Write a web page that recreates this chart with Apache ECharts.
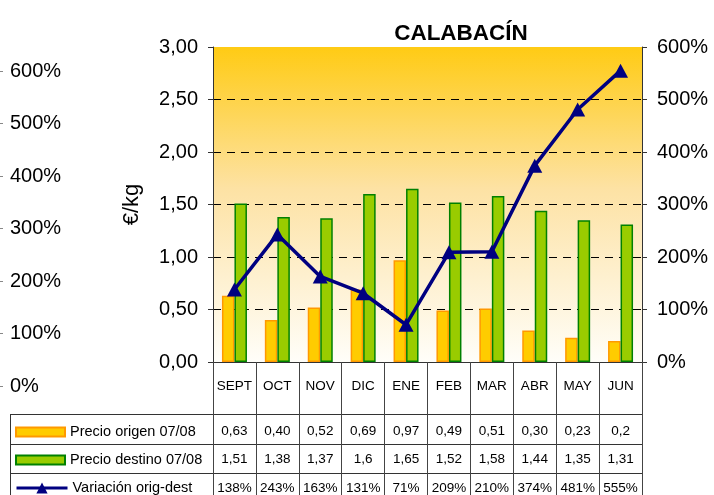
<!DOCTYPE html>
<html><head><meta charset="utf-8">
<script src="https://cdn.jsdelivr.net/npm/echarts@6/dist/echarts.min.js"></script>
<style>html,body{margin:0;padding:0;background:#fff}#c{width:714px;height:495px}</style>
</head><body><div id="c"></div>
<script>
const months = ['SEPT','OCT','NOV','DIC','ENE','FEB','MAR','ABR','MAY','JUN'];
const precioOrigen = ['0.63','0.40','0.52','0.69','0.97','0.49','0.51','0.30','0.23','0.2'];
const precioDestino = ['1.51','1.38','1.37','1.6','1.65','1.52','1.58','1.44','1.35','1.31'];
const variacion = [138,243,163,131,71,209,210,374,481,555];
const seriesNames = ['Precio origen 07/08','Precio destino 07/08','Variación orig-dest'];
const title = 'CALABACÍN';

const FONT = "'Liberation Sans', Arial, sans-serif";
const chart = echarts.init(document.getElementById('c'), null, {renderer:'canvas'});
const comma = s => String(s).replace('.', ',');
const rowAxis = (arr, margin, fmt) => ({
  type:'category', gridIndex:0, position:'bottom', data: months,
  axisLine:{show:false}, axisTick:{show:false}, splitLine:{show:false},
  axisLabel:{interval:0, margin: margin, fontSize:13.5, color:'#000', fontFamily:FONT,
    formatter:(v, i) => fmt(arr[i])}
});
const legendBox = (name, top, extra) => Object.assign({
  orient:'vertical', left:15, top: top, itemWidth:49, itemHeight:9, padding:0,
  textStyle:{fontSize:14.5, color:'#000', lineHeight:16, fontFamily:FONT},
  data:[name]
}, extra || {});

const option = {
  animation:false,
  textStyle:{fontFamily:FONT},
  title:{text:title, left:456, textAlign:'center', top:17,
    textStyle:{fontSize:22.5, fontWeight:'bold', color:'#000', fontFamily:FONT}},
  grid:[
    {left:213, right:72, top:47, bottom:133, show:true, borderWidth:0, outerBoundsMode:'none',
     backgroundColor:new echarts.graphic.LinearGradient(0,0,0,1,[
       {offset:0, color:'#FFCB14'},{offset:0.45, color:'#FDE2A4'},{offset:1, color:'#FFFEF9'}])},
    {left:-30, width:30, top:71, bottom:109, outerBoundsMode:'none'}
  ],
  legend:[
    legendBox({name:seriesNames[0], icon:'rect'}, 424),
    legendBox({name:seriesNames[1], icon:'rect'}, 452),
    legendBox({name:seriesNames[2]}, 480, {itemHeight:14, itemWidth:51, lineStyle:{width:3}})
  ],
  xAxis:[
    {type:'category', gridIndex:0, data:months, position:'bottom',
     axisLine:{lineStyle:{color:'#333', width:1}},
     axisTick:{show:true, length:133, interval:0, lineStyle:{color:'#444'}},
     axisLabel:{interval:0, margin:17, fontSize:13.5, color:'#000', fontFamily:FONT}},
    rowAxis(precioOrigen, 62, comma),
    rowAxis(precioDestino, 90, comma),
    rowAxis(variacion, 119, v => v + '%'),
    {type:'category', gridIndex:1, data:months, show:false}
  ],
  yAxis:[
    {type:'value', gridIndex:0, min:0, max:3, interval:0.5, position:'left',
     name:'€/kg', nameLocation:'middle', nameGap:70,
     nameTextStyle:{fontSize:22, color:'#000', fontFamily:FONT},
     axisLine:{show:true, lineStyle:{color:'#333'}},
     axisTick:{show:true, length:5, lineStyle:{color:'#333'}},
     axisLabel:{margin:15, fontSize:20, color:'#000', fontFamily:FONT,
       formatter:v => v.toFixed(2).replace('.', ',')},
     splitLine:{show:true, showMinLine:false, showMaxLine:false, lineStyle:{color:'#000', type:[8,6], width:1}}},
    {type:'value', gridIndex:0, min:0, max:600, interval:100, position:'right',
     axisLine:{show:true, lineStyle:{color:'#333'}},
     axisTick:{show:true, length:5, lineStyle:{color:'#333'}},
     axisLabel:{margin:15, fontSize:20, color:'#000', fontFamily:FONT, formatter:v => v + '%'},
     splitLine:{show:false}},
    {type:'value', gridIndex:1, min:0, max:600, interval:100, position:'right',
     axisLine:{show:false},
     axisTick:{show:true, length:3, lineStyle:{color:'#888'}},
     axisLabel:{margin:10, fontSize:20, color:'#000', fontFamily:FONT, formatter:v => v + '%'},
     splitLine:{show:false}}
  ],
  graphic:[
    {type:'line', shape:{x1:10, y1:414.5, x2:642, y2:414.5}, style:{stroke:'#333', lineWidth:1}},
    {type:'line', shape:{x1:10, y1:444.5, x2:642, y2:444.5}, style:{stroke:'#333', lineWidth:1}},
    {type:'line', shape:{x1:10, y1:473.5, x2:642, y2:473.5}, style:{stroke:'#333', lineWidth:1}},
    {type:'line', shape:{x1:10.5, y1:414, x2:10.5, y2:495}, style:{stroke:'#333', lineWidth:1}}
  ],
  series:[
    {name:seriesNames[0], type:'bar', xAxisIndex:0, yAxisIndex:0, barWidth:12.5, barGap:'0%',
     data:precioOrigen.map(parseFloat),
     itemStyle:{color:'#FFCC00', borderColor:'#FF9900', borderWidth:1.5}},
    {name:seriesNames[1], type:'bar', xAxisIndex:0, yAxisIndex:0, barWidth:12.5, barGap:'0%',
     data:precioDestino.map(parseFloat),
     itemStyle:{color:'#99CC00', borderColor:'#008000', borderWidth:1.5}},
    {name:seriesNames[2], type:'line', xAxisIndex:0, yAxisIndex:1, data:variacion,
     symbol:'triangle', symbolSize:[15,14], color:'#000080',
     lineStyle:{color:'#000080', width:3.5}, itemStyle:{color:'#000080'}}
  ]
};
chart.setOption(option);
</script></body></html>
